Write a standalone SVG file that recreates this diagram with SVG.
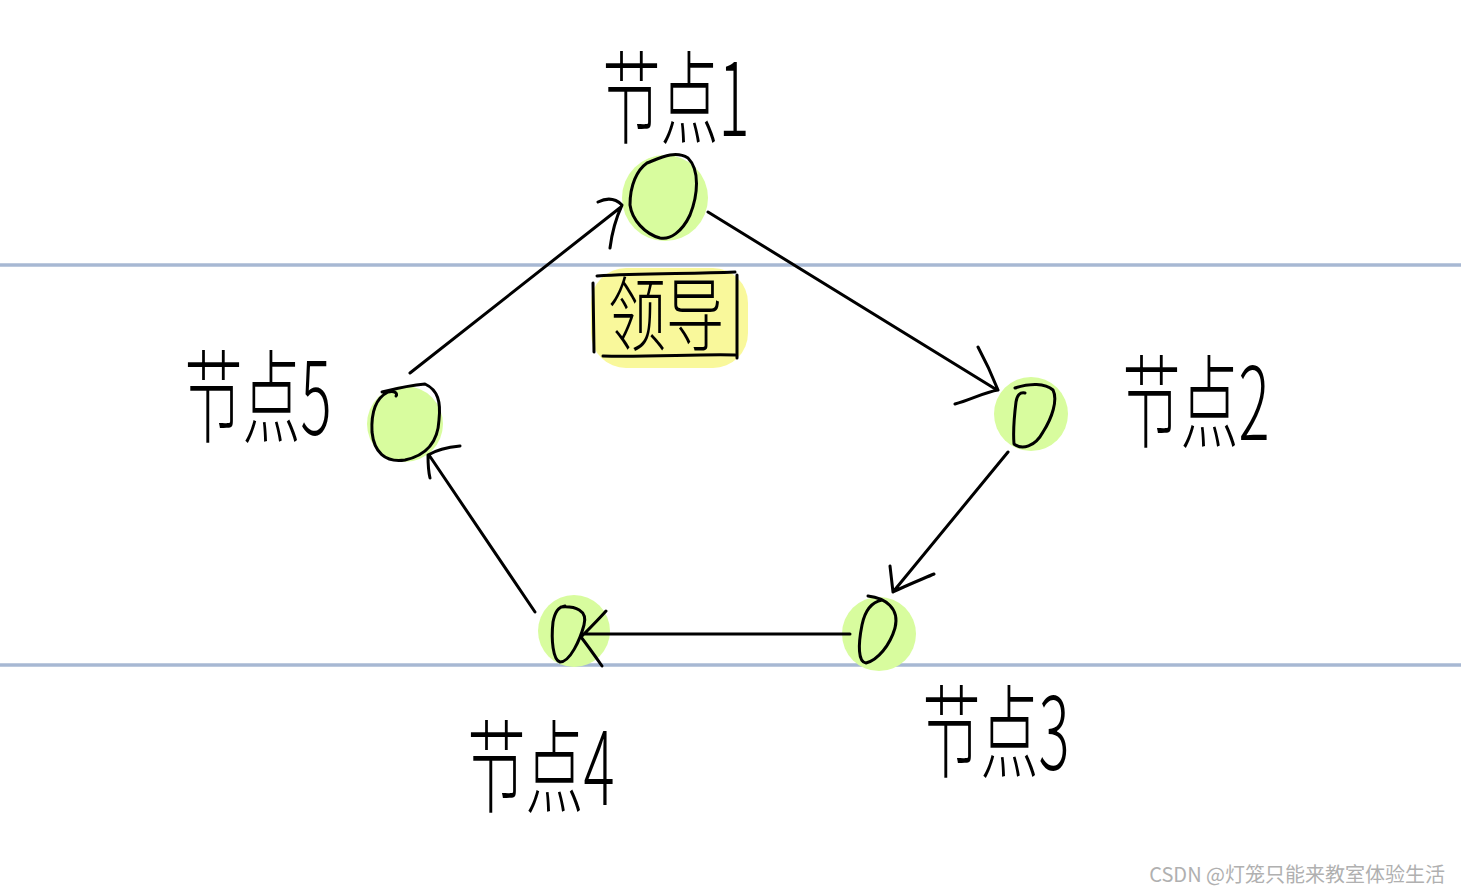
<svg xmlns="http://www.w3.org/2000/svg" width="1461" height="893" viewBox="0 0 1461 893">
<style>
.rule{stroke:#a7b8d3;stroke-width:3.5;fill:none}
.hl{fill:#d8fc9e}
.ink{stroke:#000;stroke-width:3;fill:none;stroke-linecap:round;stroke-linejoin:round}
.lbl{font-family:"Noto Sans CJK SC","Noto Sans",sans-serif;font-size:58px;font-weight:300;fill:#000}
.wm{font-family:"Noto Sans CJK SC","Noto Sans",sans-serif;font-size:20px;fill:#b0b0b0}
</style>
<rect width="1461" height="893" fill="#fff"/>
<g id="rules">
<line class="rule" x1="0" y1="265" x2="1461" y2="265"/>
<line class="rule" x1="0" y1="665" x2="1461" y2="665"/>
</g>
<g id="leader">
<rect x="591" y="268" width="157" height="100" rx="35" fill="#f9f89b"/>
<path class="ink" d="M597,276 C640,273 690,274 735,272 M593,283 L594,352 M603,356 C650,357 700,354 735,355 M737,275 L737,358"/>
<text class="lbl" transform="translate(666,344) scale(1,1.4)" text-anchor="middle">领导</text>
</g>
<g id="node1">
<circle class="hl" cx="665" cy="198" r="43"/>
<path class="ink" d="M647,163 C660,158 675,150 688,158 C700,170 698,195 690,215 C682,232 670,240 660,238 C645,234 632,220 630,205 C630,185 637,170 647,163"/>
<text class="lbl" transform="translate(676,136) scale(1,1.75)" text-anchor="middle">节点1</text>
</g>
<g id="node2">
<circle class="hl" cx="1031" cy="414" r="37"/>
<path class="ink" d="M1025,393 C1020,392 1017,395 1016,402 C1014,418 1013,432 1014,444 C1022,450 1035,447 1043,432 C1052,418 1058,400 1053,390 C1045,383 1030,383 1015,388"/>
<text class="lbl" transform="translate(1196,440) scale(1,1.75)" text-anchor="middle">节点2</text>
</g>
<g id="node3">
<circle class="hl" cx="879" cy="634" r="37"/>
<path class="ink" d="M868,596 C885,598 900,608 895,628 C890,645 878,660 866,663 C858,662 858,645 862,625 C865,610 872,602 882,600"/>
<text class="lbl" transform="translate(996,770) scale(1,1.75)" text-anchor="middle">节点3</text>
</g>
<g id="node4">
<circle class="hl" cx="574" cy="631" r="36"/>
<path class="ink" d="M561,607 C575,606 588,610 584,625 C580,640 570,662 560,662 C553,660 551,640 553,622 C555,612 558,607 565,606"/>
<text class="lbl" transform="translate(541,805) scale(1,1.75)" text-anchor="middle">节点4</text>
</g>
<g id="node5">
<circle class="hl" cx="405" cy="424" r="38"/>
<path class="ink" d="M382,392 C398,388 412,385 425,384 C438,390 441,402 439,420 C438,440 428,455 405,460 C385,463 374,452 372,432 C371,412 376,398 388,392 C395,390 398,394 396,396"/>
<text class="lbl" transform="translate(258,435) scale(1,1.75)" text-anchor="middle">节点5</text>
</g>
<g id="connectors">
<path class="ink" d="M410,373 L621,207 M598,202 C606,198 615,198 622,205 C616,218 612,232 610,248"/>
<path class="ink" d="M708,212 L997,390 M978,347 C985,360 992,375 998,390 C985,392 970,400 955,404"/>
<path class="ink" d="M1008,452 L893,592 M890,566 C891,575 892,584 893,592 C905,586 920,580 934,574"/>
<path class="ink" d="M850,634 L582,634 M606,611 C598,620 590,628 581,637 C588,646 595,656 602,666"/>
<path class="ink" d="M535,612 L429,455 M460,446 C450,447 438,449 428,455 C428,462 428,470 430,478"/>
</g>
<text class="wm" x="1445" y="882" text-anchor="end">CSDN @灯笼只能来教室体验生活</text>
</svg>
